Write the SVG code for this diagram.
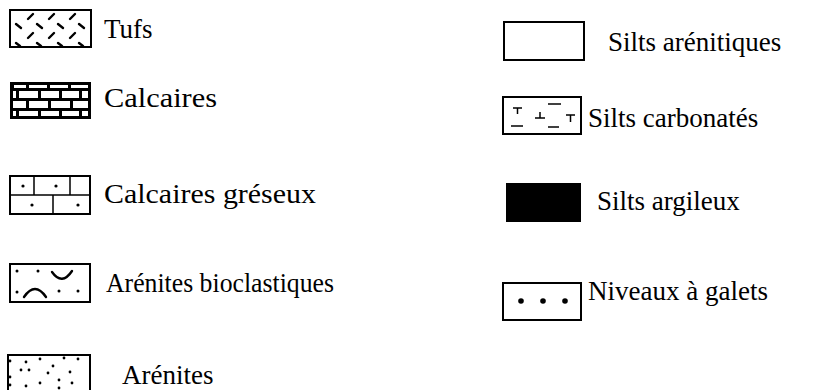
<svg xmlns="http://www.w3.org/2000/svg" width="816" height="390" viewBox="0 0 816 390">
  <style>
    .lbl { font-family: "Liberation Serif", "Times New Roman", serif; font-size: 27px; fill: #000; }
    .big { font-size: 28px; }
    .box { fill: #fff; stroke: #000; stroke-width: 2; }
    .thin { fill: none; stroke: #000; stroke-width: 1.5; }
    .dash { fill: none; stroke: #000; stroke-width: 2.4; stroke-linecap: round; }
    .dot { fill: #000; }
  </style>

  <!-- left column -->
  <g id="tufs">
    <rect class="box" x="10" y="10" width="81" height="37" />
    <g class="dash">
      <path d="M28 19 L33 14 M49 19 L54 14 M70 19 L75 14" />
      <path d="M16 24 L21 28 M37 24 L42 28 M58 24 L63 28 M79 24 L84 28" />
      <path d="M28 38 L33 33 M49 38 L54 33 M70 38 L75 33" />
      <path d="M16 43 L20 46 M37 43 L41 46 M58 43 L62 46 M79 43 L83 46" />
    </g>
    <text class="lbl" x="104" y="38">Tufs</text>
  </g>

  <g id="calcaires">
    <rect x="10" y="82" width="81" height="37" fill="#000" />
    <g fill="#fff">
      <rect x="14" y="85" width="12" height="3" />
      <rect x="29" y="85" width="18" height="3" />
      <rect x="50" y="85" width="18" height="3" />
      <rect x="71" y="85" width="17" height="3" />
      <rect x="13" y="91" width="3" height="7" />
      <rect x="19" y="91" width="19" height="7" />
      <rect x="41" y="91" width="18" height="7" />
      <rect x="62" y="91" width="17" height="7" />
      <rect x="82" y="91" width="6" height="7" />
      <rect x="13" y="101" width="13" height="7" />
      <rect x="29" y="101" width="19" height="7" />
      <rect x="51" y="101" width="19" height="7" />
      <rect x="73" y="101" width="15" height="7" />
      <rect x="13" y="111" width="3" height="5" />
      <rect x="19" y="111" width="19" height="5" />
      <rect x="41" y="111" width="18" height="5" />
      <rect x="62" y="111" width="17" height="5" />
      <rect x="82" y="111" width="6" height="5" />
    </g>
    <text class="lbl big" x="104" y="107" textLength="113" lengthAdjust="spacingAndGlyphs">Calcaires</text>
  </g>

  <g id="calcaires-greseux">
    <rect class="box" x="10" y="176" width="80" height="38" />
    <path class="thin" d="M10 195 H90 M34 176 V195 M70 176 V195 M53 195 V214" />
    <circle class="dot" cx="23" cy="186" r="1.6" />
    <circle class="dot" cx="56" cy="186" r="1.6" />
    <circle class="dot" cx="32" cy="205" r="1.6" />
    <circle class="dot" cx="78" cy="205" r="1.6" />
    <text class="lbl big" x="104" y="203" textLength="212" lengthAdjust="spacingAndGlyphs">Calcaires gréseux</text>
  </g>

  <g id="arenites-bioclastiques">
    <rect class="box" x="10" y="264" width="80" height="38" />
    <circle class="dot" cx="17" cy="271" r="1.5" />
    <circle class="dot" cx="38" cy="271" r="1.5" />
    <path class="dash" d="M52 272 Q62 286 72 271" />
    <circle class="dot" cx="17" cy="292" r="1.5" />
    <path class="dash" d="M24 297 Q35 281 46 297" />
    <circle class="dot" cx="59" cy="291" r="1.5" />
    <circle class="dot" cx="78" cy="291" r="1.5" />
    <text class="lbl" x="106" y="292" textLength="228" lengthAdjust="spacingAndGlyphs">Arénites bioclastiques</text>
  </g>

  <g id="arenites">
    <rect class="box" x="8" y="355" width="82" height="40" />
    <g class="dot">
      <circle cx="10" cy="361" r="1.4" />
      <circle cx="26" cy="362" r="1.4" />
      <circle cx="40" cy="359" r="1.4" />
      <circle cx="64" cy="358" r="1.4" />
      <circle cx="78" cy="359" r="1.4" />
      <circle cx="21" cy="370" r="1.4" />
      <circle cx="29" cy="370" r="1.4" />
      <circle cx="53" cy="366" r="1.4" />
      <circle cx="48" cy="373" r="1.4" />
      <circle cx="70" cy="372" r="1.4" />
      <circle cx="10" cy="377" r="1.4" />
      <circle cx="10" cy="385" r="1.4" />
      <circle cx="26" cy="386" r="1.4" />
      <circle cx="40" cy="383" r="1.4" />
      <circle cx="59" cy="380" r="1.4" />
      <circle cx="72" cy="383" r="1.4" />
      <circle cx="59" cy="388" r="1.4" />
    </g>
    <text class="lbl" x="122" y="384">Arénites</text>
  </g>

  <!-- right column -->
  <g id="silts-arenitiques">
    <rect class="box" x="504" y="22" width="80" height="38" />
    <text class="lbl" x="608" y="51">Silts arénitiques</text>
  </g>

  <g id="silts-carbonates">
    <rect class="box" x="503" y="97" width="78" height="37" />
    <g class="thin">
      <path d="M513 108 H522 M517.5 108 V114" />
      <path d="M511 126 H523" />
      <path d="M535 118 H545 M540 112 V118" />
      <path d="M548 104 H561" />
      <path d="M548 127 H559" />
      <path d="M566 115 H575 M570.5 115 V122" />
    </g>
    <text class="lbl" x="588" y="127">Silts carbonatés</text>
  </g>

  <g id="silts-argileux">
    <rect x="506" y="183" width="75" height="39" fill="#000" />
    <text class="lbl" x="597" y="210">Silts argileux</text>
  </g>

  <g id="niveaux-galets">
    <rect class="box" x="503" y="283" width="78" height="37" />
    <circle class="dot" cx="521" cy="301" r="2.8" />
    <circle class="dot" cx="543" cy="301" r="2.8" />
    <circle class="dot" cx="565" cy="301" r="2.8" />
    <text class="lbl" x="588" y="300">Niveaux à galets</text>
  </g>
</svg>
